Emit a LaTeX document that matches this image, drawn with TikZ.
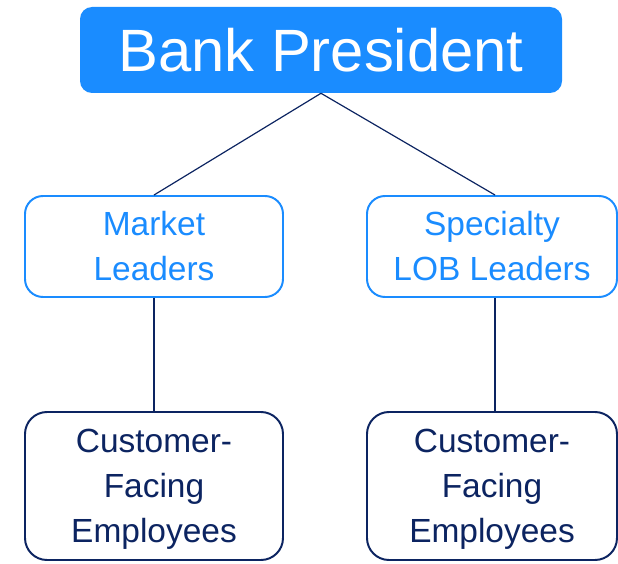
\documentclass[tikz,border=0pt]{standalone}
\usepackage{fontspec}
\setmainfont{Liberation Sans}
\usepackage{tikz}
\definecolor{bankblue}{RGB}{26,140,255}
\definecolor{navy}{RGB}{12,36,97}
\tikzset{
  presbox/.style={fill=bankblue,text=white,rounded corners=0.3cm,inner sep=0pt,
    minimum width=12.05cm,minimum height=2.15cm,font=\fontsize{42.5}{48}\selectfont},
  leadbox/.style={draw=bankblue,line width=1.4pt,fill=white,text=bankblue,
    rounded corners=0.45cm,inner sep=0pt,align=center,minimum height=2.525cm,
    font=\fontsize{23.8}{32}\selectfont},
  staffbox/.style={draw=navy,line width=1.4pt,fill=white,text=navy,
    rounded corners=0.55cm,inner sep=0pt,align=center,minimum height=3.7cm,
    text depth=0pt,font=\fontsize{23.8}{32}\selectfont},
  link/.style={navy,line width=0.85pt}
}

\begin{document}
\begin{tikzpicture}[x=1cm,y=1cm]
  \useasboundingbox (0,0) rectangle (15.45,14.075);
  % ---- top of the chart ----
  \node[presbox] (pres) at (8.025,12.825) {Bank President};
  % ---- leaders ----
  \node[leadbox,minimum width=6.45cm] (market) at (3.85,7.9125) {Market\\Leaders};
  \node[leadbox,minimum width=6.25cm] (spec) at (12.3,7.9125) {Specialty\\LOB Leaders};
  % ---- employees ----
  \node[staffbox,minimum width=6.45cm] (staffL) at (3.85,1.925) {Customer-\\Facing\\Employees};
  \node[staffbox,minimum width=6.25cm] (staffR) at (12.3,1.925) {Customer-\\Facing\\Employees};
  % ---- reporting lines ----
  \draw[link] (pres.south) -- (market.north);
  \draw[link] (pres.south) -- ([xshift=0.075cm]spec.north);
  \draw[link] (market.south) -- (staffL.north);
  \draw[link] ([xshift=0.075cm]spec.south) -- ([xshift=0.075cm]staffR.north);
\end{tikzpicture}
\end{document}
